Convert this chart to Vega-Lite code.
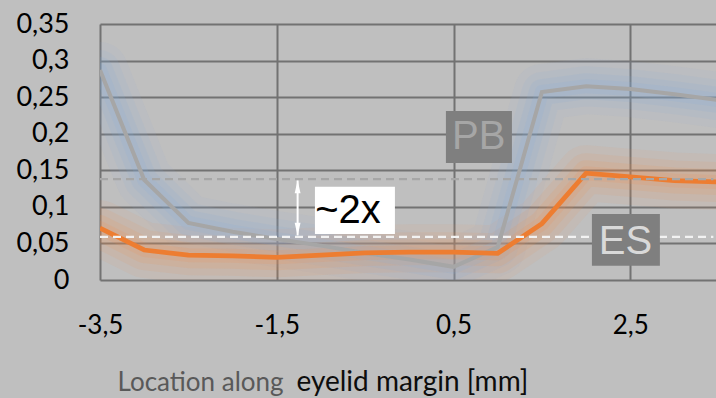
{
  "$schema": "https://vega.github.io/schema/vega-lite/v6.json",
  "width": 616,
  "height": 256,
  "autosize": {"type": "none"},
  "padding": {"left": 100, "top": 24, "right": 0, "bottom": 118},
  "background": "#bfbfbf",
  "config": {
    "view": {"stroke": null},
    "axisY": {"labelOverlap": false, "tickCount": 8}
  },
  "datasets": {
    "series": [
      {"x": -3.5, "y": 0.287, "s": "PB"},
      {"x": -3.0, "y": 0.137, "s": "PB"},
      {"x": -2.5, "y": 0.078, "s": "PB"},
      {"x": -2.0, "y": 0.066, "s": "PB"},
      {"x": -1.5, "y": 0.056, "s": "PB"},
      {"x": -1.0, "y": 0.047, "s": "PB"},
      {"x": -0.5, "y": 0.037, "s": "PB"},
      {"x": 0.0, "y": 0.028, "s": "PB"},
      {"x": 0.5, "y": 0.018, "s": "PB"},
      {"x": 1.0, "y": 0.045, "s": "PB"},
      {"x": 1.5, "y": 0.257, "s": "PB"},
      {"x": 2.0, "y": 0.265, "s": "PB"},
      {"x": 2.5, "y": 0.261, "s": "PB"},
      {"x": 3.0, "y": 0.254, "s": "PB"},
      {"x": 3.5, "y": 0.246, "s": "PB"},
      {"x": -3.5, "y": 0.071, "s": "ES"},
      {"x": -3.0, "y": 0.041, "s": "ES"},
      {"x": -2.5, "y": 0.034, "s": "ES"},
      {"x": -2.0, "y": 0.033, "s": "ES"},
      {"x": -1.5, "y": 0.031, "s": "ES"},
      {"x": -1.0, "y": 0.034, "s": "ES"},
      {"x": -0.5, "y": 0.037, "s": "ES"},
      {"x": 0.0, "y": 0.038, "s": "ES"},
      {"x": 0.5, "y": 0.038, "s": "ES"},
      {"x": 1.0, "y": 0.0365, "s": "ES"},
      {"x": 1.5, "y": 0.077, "s": "ES"},
      {"x": 2.0, "y": 0.146, "s": "ES"},
      {"x": 2.5, "y": 0.141, "s": "ES"},
      {"x": 3.0, "y": 0.136, "s": "ES"},
      {"x": 3.5, "y": 0.134, "s": "ES"}
    ],
    "refs": [
      {"kind": "PB level", "y": 0.138, "x": -3.5, "x2": 3.44},
      {"kind": "ES level", "y": 0.059, "x": -3.5, "x2": 3.44}
    ],
    "labels": [
      {"label": "PB", "x1": 0.414, "x2": 1.161, "y1": 0.160, "y2": 0.231, "tx": 0.785, "ty": 0.196},
      {"label": "ES", "x1": 2.066, "x2": 2.835, "y1": 0.0196, "y2": 0.0902, "tx": 2.446, "ty": 0.0524},
      {"label": "~2x", "x1": -1.068, "x2": -0.163, "y1": 0.0629, "y2": 0.1276, "tx": -0.694, "ty": 0.0943}
    ],
    "arrow": [
      {"x": -1.264, "y": 0.061, "y2": 0.136}
    ],
    "heads": [
      {"x": -1.264, "y": 0.1275, "dir": "up"},
      {"x": -1.264, "y": 0.0695, "dir": "down"}
    ]
  },
  "resolve": {"scale": {"color": "independent", "size": "independent", "shape": "independent"}},
  "layer": [
    {
      "data": {"name": "series"},
      "mark": {"type": "line", "strokeWidth": 56, "opacity": 0.08, "clip": true, "strokeJoin": "round", "strokeCap": "round"},
      "encoding": {
        "x": {"field": "x", "type": "quantitative", "scale": {"domain": [-3.5, 3.47], "nice": false, "zero": false},
          "axis": {"values": [-3.5, -1.5, 0.5, 2.5], "grid": true, "gridColor": "#727272", "gridWidth": 2, "gridOpacity": 1, "domain": false, "ticks": false, "labelFlush": false, "labelOverlap": false,
            "labelFont": "Lato", "labelFontSize": 26, "labelColor": "#000000", "labelPadding": 32, "labelExpr": "replace(replace(format(datum.value, '.1f'), '.', ','), '\u2212', '-')",
            "title": "eyelid margin [mm]", "titleFont": "Lato", "titleFontSize": 28, "titleFontWeight": "normal", "titleX": 196, "titleY": 110, "titleAlign": "left", "titleBaseline": "alphabetic", "titleColor": "#0d0d0d", "titleAnchor": "start"}},
        "y": {"field": "y", "type": "quantitative", "scale": {"domain": [0, 0.35], "nice": false},
          "axis": {"values": [0, 0.05, 0.1, 0.15, 0.2, 0.25, 0.3, 0.35], "tickCount": 8, "grid": true, "gridColor": "#727272", "gridWidth": 2, "gridOpacity": 1, "domain": false, "ticks": false, "labelFlush": false, "labelOverlap": false,
            "labelFont": "Lato", "labelFontSize": 27, "labelColor": "#000000", "labelPadding": 31, "labelExpr": "replace(format(datum.value, '~g'), '.', ',')",
            "title": "Location along", "titleFont": "Lato", "titleFontSize": 26, "titleFontWeight": "normal", "titleAngle": 0, "titleX": 17, "titleY": 366, "titleAlign": "left", "titleBaseline": "alphabetic", "titleColor": "#595959", "titleAnchor": "start"}},
        "color": {"field": "s", "type": "nominal", "scale": {"domain": ["PB", "ES"], "range": ["#86acdc", "#f0904f"]}, "legend": null}
      }
    },
    {
      "data": {"name": "series"},
      "mark": {"type": "line", "strokeWidth": 40, "opacity": 0.11, "clip": true, "strokeJoin": "round", "strokeCap": "round"},
      "encoding": {
        "x": {"field": "x", "type": "quantitative"},
        "y": {"field": "y", "type": "quantitative"},
        "color": {"field": "s", "type": "nominal", "scale": {"domain": ["PB", "ES"], "range": ["#86acdc", "#f0904f"]}, "legend": null}
      }
    },
    {
      "data": {"name": "series"},
      "mark": {"type": "line", "strokeWidth": 26, "opacity": 0.13, "clip": true, "strokeJoin": "round", "strokeCap": "round"},
      "encoding": {
        "x": {"field": "x", "type": "quantitative"},
        "y": {"field": "y", "type": "quantitative"},
        "color": {"field": "s", "type": "nominal", "scale": {"domain": ["PB", "ES"], "range": ["#86acdc", "#f0904f"]}, "legend": null}
      }
    },
    {
      "data": {"name": "series"},
      "mark": {"type": "line", "strokeWidth": 14, "opacity": 0.15, "clip": true, "strokeJoin": "round", "strokeCap": "round"},
      "encoding": {
        "x": {"field": "x", "type": "quantitative"},
        "y": {"field": "y", "type": "quantitative"},
        "color": {"field": "s", "type": "nominal", "scale": {"domain": ["PB", "ES"], "range": ["#86acdc", "#f0904f"]}, "legend": null}
      }
    },
    {
      "data": {"name": "series"},
      "mark": {"type": "line", "clip": true, "strokeJoin": "miter"},
      "encoding": {
        "x": {"field": "x", "type": "quantitative"},
        "y": {"field": "y", "type": "quantitative"},
        "color": {"field": "s", "type": "nominal", "scale": {"domain": ["PB", "ES"], "range": ["#a6a6a6", "#ed7d31"]}, "legend": null},
        "strokeWidth": {"field": "s", "type": "nominal", "scale": {"domain": ["PB", "ES"], "range": [4, 4.8]}, "legend": null},
        "order": {"field": "x"}
      }
    },
    {
      "data": {"name": "refs"},
      "mark": {"type": "rule", "strokeWidth": 2.2, "strokeDash": [8, 5]},
      "encoding": {
        "x": {"field": "x", "type": "quantitative"},
        "x2": {"field": "x2"},
        "y": {"field": "y", "type": "quantitative"},
        "color": {"field": "kind", "type": "nominal", "scale": {"domain": ["PB level", "ES level"], "range": ["#a6a6a6", "#f2f2f2"]}, "legend": null}
      }
    },
    {
      "data": {"name": "labels"},
      "mark": {"type": "rect"},
      "encoding": {
        "x": {"field": "x1", "type": "quantitative"},
        "x2": {"field": "x2"},
        "y": {"field": "y1", "type": "quantitative"},
        "y2": {"field": "y2"},
        "color": {"field": "label", "type": "nominal", "scale": {"domain": ["PB", "ES", "~2x"], "range": ["#7f7f7f", "#7f7f7f", "#ffffff"]}, "legend": null}
      }
    },
    {
      "data": {"name": "labels"},
      "mark": {"type": "text", "font": "Liberation Sans", "align": "center", "baseline": "middle"},
      "encoding": {
        "x": {"field": "tx", "type": "quantitative"},
        "y": {"field": "ty", "type": "quantitative"},
        "text": {"field": "label"},
        "color": {"field": "label", "type": "nominal", "scale": {"domain": ["PB", "ES", "~2x"], "range": ["#a6a6a6", "#d9d9d9", "#000000"]}, "legend": null},
        "size": {"field": "label", "type": "nominal", "scale": {"domain": ["PB", "ES", "~2x"], "range": [40, 40, 38]}, "legend": null}
      }
    },
    {
      "data": {"name": "arrow"},
      "mark": {"type": "rule", "color": "#ffffff", "strokeWidth": 2},
      "encoding": {
        "x": {"field": "x", "type": "quantitative"},
        "y": {"field": "y", "type": "quantitative"},
        "y2": {"field": "y2"}
      }
    },
    {
      "data": {"name": "heads"},
      "mark": {"type": "point", "filled": true, "color": "#ffffff", "size": 170, "opacity": 1},
      "encoding": {
        "x": {"field": "x", "type": "quantitative"},
        "y": {"field": "y", "type": "quantitative"},
        "shape": {"field": "dir", "type": "nominal", "scale": {"domain": ["up", "down"], "range": ["M0,-1L0.45,1L-0.45,1Z", "M0,1L0.45,-1L-0.45,-1Z"]}, "legend": null}
      }
    }
  ]
}
